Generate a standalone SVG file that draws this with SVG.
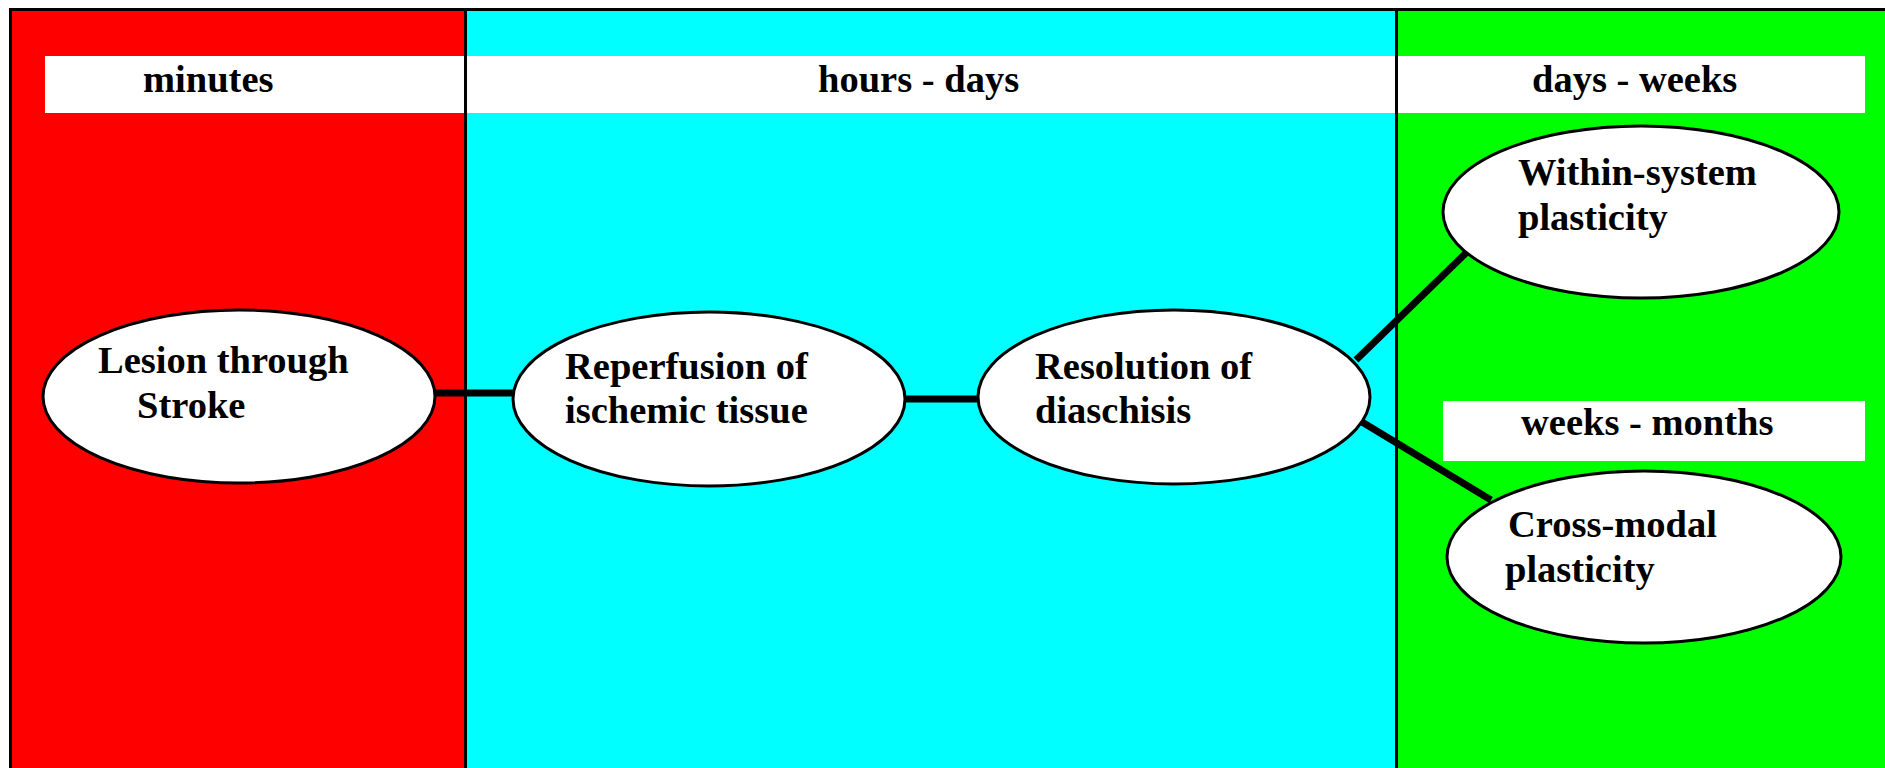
<svg xmlns="http://www.w3.org/2000/svg" width="1885" height="768" viewBox="0 0 1885 768">
<style>
.lbl{fill:#ffffff}
.node ellipse{fill:#ffffff;stroke:#000000;stroke-width:3}
text{font-family:"Liberation Serif","Times New Roman",serif;font-weight:bold;font-size:38.5px;fill:#000000}
.conn line{stroke:#000000;stroke-width:7}
.div{stroke:#000000;stroke-width:3}
</style>
<g id="background">
<rect x="10" y="9" width="455" height="759" fill="#ff0000"/>
<rect x="465" y="9" width="931" height="759" fill="#00ffff"/>
<rect x="1396" y="9" width="489" height="759" fill="#00ff00"/>
<line class="div" x1="9" y1="9.5" x2="1885" y2="9.5"/>
<line class="div" x1="10.5" y1="8" x2="10.5" y2="768"/>
<line class="div" x1="465.5" y1="9" x2="465.5" y2="768"/>
<line class="div" x1="1396.5" y1="9" x2="1396.5" y2="768"/>
</g>
<g id="phase-minutes">
<rect class="lbl" x="45" y="56" width="419" height="57"/>
<text x="143" y="92">minutes</text>
</g>
<g id="phase-hours-days">
<rect class="lbl" x="467" y="56" width="928" height="57"/>
<text x="818" y="92">hours - days</text>
</g>
<g id="phase-days-weeks">
<rect class="lbl" x="1398" y="56" width="467" height="57"/>
<text x="1532" y="92">days - weeks</text>
</g>
<g id="phase-weeks-months">
<rect class="lbl" x="1443" y="401" width="422" height="60"/>
<text x="1521" y="435">weeks - months</text>
</g>
<g id="connectors" class="conn">
<line x1="435" y1="393" x2="514" y2="393"/>
<line x1="905" y1="399" x2="978" y2="399"/>
<line x1="1356" y1="360" x2="1467" y2="252"/>
<line x1="1362" y1="422" x2="1491" y2="500"/>
</g>
<g id="node-lesion" class="node">
<ellipse cx="239" cy="396.5" rx="196" ry="86.5"/>
<text x="98" y="373">Lesion through</text>
<text x="137" y="418">Stroke</text>
</g>
<g id="node-reperfusion" class="node">
<ellipse cx="709" cy="399" rx="196" ry="87"/>
<text x="565" y="379">Reperfusion of</text>
<text x="565" y="423">ischemic tissue</text>
</g>
<g id="node-resolution" class="node">
<ellipse cx="1174" cy="397" rx="196" ry="87"/>
<text x="1035" y="379">Resolution of</text>
<text x="1035" y="423">diaschisis</text>
</g>
<g id="node-within" class="node">
<ellipse cx="1641" cy="212" rx="198" ry="86"/>
<text x="1518" y="185">Within-system</text>
<text x="1518" y="230">plasticity</text>
</g>
<g id="node-crossmodal" class="node">
<ellipse cx="1644" cy="557" rx="197" ry="86"/>
<text x="1508" y="537">Cross-modal</text>
<text x="1505" y="582">plasticity</text>
</g>
</svg>
